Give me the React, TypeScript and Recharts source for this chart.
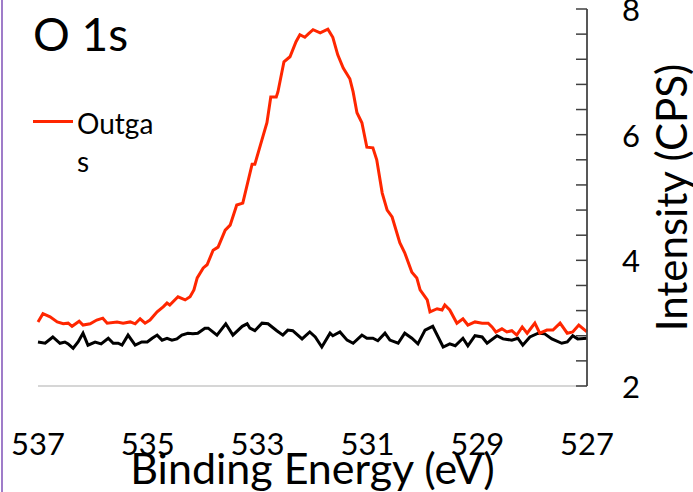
import React from "react";
import { LineChart, Line, XAxis, YAxis, Legend } from "recharts";

// O 1s spectrum, outgassed sample (red)
const outgasEnergy = [
  537.0, 536.91, 536.78, 536.65, 536.54, 536.45, 536.38, 536.25, 536.18, 536.05,
  535.93, 535.82, 535.74, 535.56, 535.45, 535.32, 535.23, 535.14, 535.05, 534.96,
  534.83, 534.72, 534.65, 534.6, 534.45, 534.32, 534.23, 534.16, 534.1, 533.99,
  533.92, 533.81, 533.72, 533.59, 533.5, 533.38, 533.27, 533.1, 533.05, 532.92,
  532.83, 532.76, 532.66, 532.63, 532.52, 532.41, 532.3, 532.23, 532.14, 532.08,
  531.99, 531.86, 531.72, 531.63, 531.54, 531.44, 531.32, 531.26, 531.19, 531.1,
  531.01, 530.9, 530.83, 530.73, 530.64, 530.55, 530.41, 530.32, 530.19, 530.1,
  530.04, 529.91, 529.86, 529.73, 529.64, 529.59, 529.5, 529.37, 529.26, 529.17,
  529.04, 528.91, 528.8, 528.73, 528.66, 528.55, 528.46, 528.37, 528.28, 528.18,
  528.09, 527.95, 527.86, 527.73, 527.62, 527.49, 527.36, 527.26, 527.15, 527.0,
];
const outgasCps = [
  3.02, 3.15, 3.1, 3.02, 2.99, 3.0, 2.95, 3.03, 2.97, 2.99,
  3.05, 3.08, 3.0, 3.02, 3.0, 3.02, 2.99, 3.07, 3.0, 3.05,
  3.18, 3.26, 3.32, 3.29, 3.42, 3.37, 3.42, 3.53, 3.72, 3.88,
  3.93, 4.16, 4.21, 4.48, 4.56, 4.88, 4.91, 5.53, 5.53, 5.92,
  6.19, 6.6, 6.6, 6.68, 7.16, 7.24, 7.48, 7.59, 7.55, 7.6,
  7.67, 7.62, 7.68, 7.55, 7.27, 7.06, 6.89, 6.68, 6.35, 6.19,
  5.8, 5.79, 5.6, 5.07, 4.8, 4.69, 4.28, 4.12, 3.81, 3.72,
  3.53, 3.37, 3.18, 3.23, 3.21, 3.29, 3.21, 3.0, 3.07, 2.97,
  3.02, 3.0, 3.0, 2.94, 2.86, 2.91, 2.86, 2.88, 2.81, 2.94,
  2.84, 3.0, 2.84, 2.89, 2.89, 3.0, 2.84, 2.86, 2.97, 2.86,
];

// untreated reference scan (black)
const baseEnergy = [
  537.0, 536.87, 536.73, 536.6, 536.51, 536.45, 536.36, 536.27, 536.18, 536.09,
  535.96, 535.85, 535.72, 535.63, 535.54, 535.47, 535.36, 535.23, 535.11, 535.01,
  534.92, 534.83, 534.74, 534.65, 534.56, 534.47, 534.38, 534.27, 534.18, 534.09,
  533.96, 533.9, 533.74, 533.58, 533.45, 533.28, 533.19, 533.14, 533.05, 532.92,
  532.81, 532.65, 532.54, 532.45, 532.36, 532.19, 532.05, 531.95, 531.83, 531.68,
  531.63, 531.5, 531.37, 531.26, 531.1, 531.01, 530.9, 530.81, 530.68, 530.59,
  530.44, 530.32, 530.19, 530.08, 529.95, 529.81, 529.62, 529.5, 529.4, 529.26,
  529.17, 529.04, 528.91, 528.82, 528.64, 528.53, 528.37, 528.26, 528.17, 528.04,
  527.89, 527.77, 527.64, 527.46, 527.36, 527.26, 527.17, 527.0,
];
const baseCps = [
  2.7, 2.68, 2.78, 2.68, 2.7, 2.67, 2.6, 2.7, 2.84, 2.65,
  2.7, 2.67, 2.76, 2.68, 2.68, 2.65, 2.81, 2.65, 2.7, 2.7,
  2.76, 2.81, 2.73, 2.76, 2.73, 2.75, 2.81, 2.84, 2.83, 2.84,
  2.92, 2.92, 2.81, 2.99, 2.81, 2.95, 2.99, 2.92, 2.88, 3.0,
  2.99, 2.88, 2.81, 2.89, 2.88, 2.75, 2.86, 2.78, 2.62, 2.84,
  2.8, 2.86, 2.73, 2.68, 2.81, 2.76, 2.76, 2.72, 2.84, 2.73,
  2.68, 2.84, 2.76, 2.67, 2.89, 2.95, 2.62, 2.67, 2.64, 2.76,
  2.64, 2.8, 2.78, 2.68, 2.8, 2.75, 2.73, 2.76, 2.65, 2.78,
  2.84, 2.83, 2.75, 2.68, 2.7, 2.8, 2.75, 2.76,
];

const energyTicks = [537, 535, 533, 531, 529, 527];
const cpsTicks = [2, 2.4, 2.8, 3.2, 3.6, 4, 4.4, 4.8, 5.2, 5.6, 6, 6.4, 6.8, 7.2, 7.6, 8];
const cpsLabels = [2, 4, 6, 8];

const outgasData = outgasEnergy.map((e, i) => ({ e, cps: outgasCps[i] }));
const baseData = baseEnergy.map((e, i) => ({ e, cps: baseCps[i] }));

const FONT = "Lato, 'Open Sans', sans-serif";
const RED = "#ff2600";
const AXIS = "#404040";

function EnergyTick(props: any) {
  const { x, y, payload } = props;
  return (
    <text x={x} y={y + 69} textAnchor="middle" fontSize={31} fontFamily={FONT} fill="#000">
      {payload.value}
    </text>
  );
}

function CpsTick(props: any) {
  const { x, y, payload } = props;
  const showLabel = cpsLabels.includes(payload.value);
  return (
    <g>
      <line x1={x - 11} x2={x} y1={y} y2={y} stroke={AXIS} strokeWidth={1.5} />
      {showLabel && (
        <text x={x + 44} y={y + 12} textAnchor="middle" fontSize={31} fontFamily={FONT} fill="#000">
          {payload.value}
        </text>
      )}
    </g>
  );
}

function OutgasLegend(props: any) {
  const item = (props.payload || [])[0];
  if (!item) return null;
  return (
    <div style={{ display: "flex", alignItems: "flex-start", fontFamily: FONT }}>
      <div style={{ width: 40, height: 3, background: item.color, marginTop: 16 }} />
      <div style={{ marginLeft: 4, width: 80, wordBreak: "break-all", fontSize: 28, lineHeight: "38px", color: "#000" }}>
        {item.value}
      </div>
    </div>
  );
}

export default function App() {
  return (
    <div style={{ position: "absolute", left: 0, top: 0, width: 693, height: 492, overflow: "hidden", background: "#fff", fontFamily: FONT }}>
      <div style={{ position: "absolute", left: 1, top: 0, width: 2, height: 492, background: "#9f7cc9" }} />
      <div style={{ position: "absolute", left: 33, top: 11, fontSize: 46, lineHeight: "46px", color: "#000" }}>O 1s</div>
      <LineChart width={693} height={492} margin={{ top: 9, right: 0, bottom: 0, left: 38 }} style={{ fontFamily: FONT }}>
        <XAxis
          dataKey="e"
          type="number"
          domain={[527, 537]}
          reversed
          ticks={energyTicks}
          interval={0}
          height={106}
          tickSize={0}
          tickMargin={0}
          tickLine={false}
          axisLine={{ stroke: "#c9c9c9", strokeWidth: 1.5 }}
          tick={<EnergyTick />}
          label={{
            content: (p: any) => {
              const vb = p.viewBox;
              return (
                <text x={vb.x + vb.width / 2} y={vb.y + 98} textAnchor="middle" fontSize={43} fontFamily={FONT} fill="#000">
                  Binding Energy (eV)
                </text>
              );
            },
          }}
        />
        <YAxis
          orientation="right"
          type="number"
          domain={[2, 8]}
          ticks={cpsTicks}
          interval={0}
          width={106}
          tickSize={0}
          tickMargin={0}
          tickLine={false}
          axisLine={{ stroke: AXIS, strokeWidth: 1.75 }}
          tick={<CpsTick />}
          label={{
            content: (p: any) => {
              const vb = p.viewBox;
              const cx = vb.x + 100;
              const cy = vb.y + vb.height / 2;
              return (
                <text x={cx} y={cy} transform={`rotate(-90 ${cx} ${cy})`} textAnchor="middle" fontSize={42} fontFamily={FONT} fill="#000">
                  Intensity (CPS)
                </text>
              );
            },
          }}
        />
        <Legend
          layout="horizontal"
          verticalAlign="middle"
          align="center"
          content={<OutgasLegend />}
          wrapperStyle={{ left: 33, top: 104, width: 160 }}
        />
        <Line data={baseData} dataKey="cps" type="linear" stroke="#000" strokeWidth={3} dot={false} legendType="none" isAnimationActive={false} />
        <Line data={outgasData} dataKey="cps" name="Outgas" type="linear" stroke={RED} strokeWidth={3} dot={false} isAnimationActive={false} />
      </LineChart>
    </div>
  );
}
